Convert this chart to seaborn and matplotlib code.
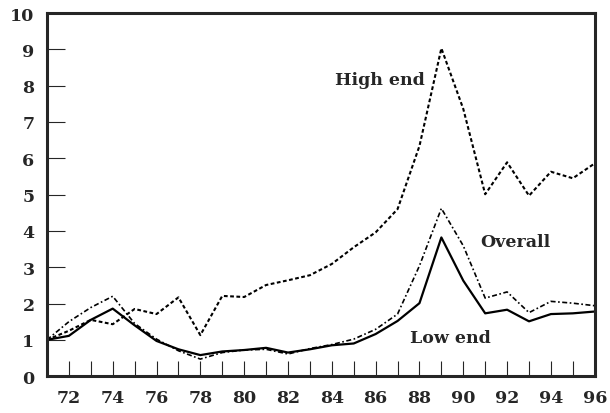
import matplotlib
matplotlib.use("Agg")
import matplotlib.pyplot as plt
import seaborn as sns
import pandas as pd

# ── Data ───────────────────────────────────────────────────────────────────
YEARS = list(range(71, 97))
LOW_END = [1.0, 1.11, 1.55, 1.86, 1.4, 0.97, 0.74, 0.58, 0.68, 0.72, 0.78, 0.65, 0.74,
           0.85, 0.9, 1.16, 1.52, 2.01, 3.82, 2.63, 1.73, 1.83, 1.51, 1.71, 1.73, 1.78]
OVERALL = [1.0, 1.5, 1.89, 2.2, 1.45, 1.02, 0.7, 0.47, 0.65, 0.72, 0.74, 0.61, 0.76,
           0.87, 1.02, 1.29, 1.71, 3.04, 4.62, 3.59, 2.15, 2.32, 1.75, 2.06, 2.01, 1.94]
HIGH_END = [1.0, 1.25, 1.55, 1.43, 1.85, 1.71, 2.17, 1.13, 2.21, 2.18, 2.51, 2.64, 2.78,
            3.09, 3.55, 3.96, 4.6, 6.34, 9.03, 7.36, 5.01, 5.89, 4.97, 5.63, 5.45, 5.86]
X_TICK_LABELS = [str(y) for y in range(72, 97, 2)]

df = pd.DataFrame({"year": YEARS, "Low end": LOW_END, "Overall": OVERALL, "High end": HIGH_END})

sns.set_style("ticks")
plt.rcParams["font.family"] = ["DejaVu Serif"]
plt.rcParams["font.weight"] = "bold"

fig, ax = plt.subplots(figsize=(6.1, 4.14), dpi=100)
fig.subplots_adjust(left=0.077, right=0.975, top=0.966, bottom=0.089)

sns.lineplot(data=df, x="year", y="High end", ax=ax, color="black", lw=1.5,
             linestyle=(0, (1.8, 1.2)))
sns.lineplot(data=df, x="year", y="Overall", ax=ax, color="black", lw=1.2,
             linestyle=(0, (3, 1.5, 1, 1.5)))
sns.lineplot(data=df, x="year", y="Low end", ax=ax, color="black", lw=1.6)

ax.set_xlim(71, 96)
ax.set_ylim(0, 10)
ax.set_xticks(range(72, 97, 2))
ax.set_xticklabels(X_TICK_LABELS)
ax.set_xticks(range(72, 96), minor=True)
ax.set_yticks(range(0, 11))
ax.set_xlabel("")
ax.set_ylabel("")

ax.tick_params(axis="x", which="both", direction="in", length=11, width=0.8, pad=9,
               labelsize=12.5)
ax.tick_params(axis="y", direction="in", length=13, width=0.8, pad=9, labelsize=12.5)
for lab in ax.get_xticklabels() + ax.get_yticklabels():
    lab.set_fontweight("bold")
for sp in ax.spines.values():
    sp.set_linewidth(2.2)
    sp.set_visible(True)

ax.text(86.2, 8.18, "High end", ha="center", va="center", fontsize=12.5, fontweight="bold")
ax.text(92.4, 3.72, "Overall", ha="center", va="center", fontsize=12.5, fontweight="bold")
ax.text(89.4, 1.07, "Low end", ha="center", va="center", fontsize=12.5, fontweight="bold")

fig.savefig("out.png", dpi=100)
